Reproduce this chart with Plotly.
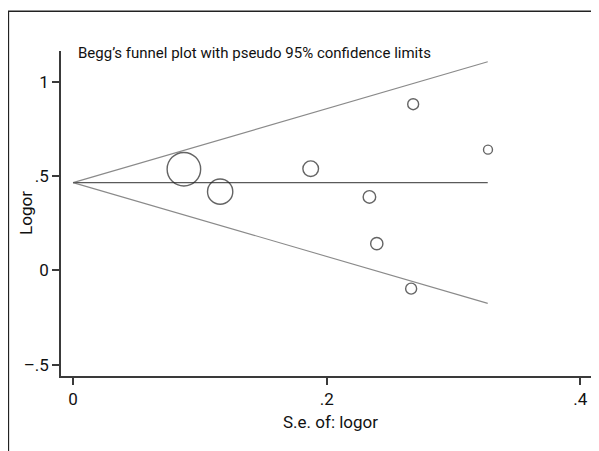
import plotly.graph_objects as go

# ---- data ----
se_logor = [0.0874, 0.116, 0.1874, 0.2337, 0.2395, 0.2682, 0.2666, 0.3272]
logor = [0.537, 0.418, 0.540, 0.390, 0.142, 0.882, -0.097, 0.641]
pooled = 0.466
funnel_se = [0.0, 0.327]
upper_limit = [0.466, 1.107]
lower_limit = [0.466, -0.175]
x_tickvals = [0, 0.2, 0.4]
x_ticktext = ["0", ".2", ".4"]
y_tickvals = [-0.5, 0, 0.5, 1]
y_ticktext = ["\u2013.5", "0", ".5", "1"]
title_text = "Begg\u2019s funnel plot with pseudo 95% confidence limits"
x_title = "S.e. of: logor"
y_title = "Logor"

# ---- layout geometry (screen px targets; page body has an 8px margin) ----
OFF = 8
W, H = 599, 451
ml = 61.3 - OFF
mt = 50.7 - OFF
mr = W - (592.7 - OFF)
mb = H - (375.7 - OFF)
pw, ph = W - ml - mr, H - mt - mb


def px(xs):
    return (xs - OFF - ml) / pw


def py(ys):
    return (H - mb - (ys - OFF)) / ph


FONT = "Roboto, Liberation Sans, sans-serif"
axis_col = "#3a3a3a"
txt_col = "#111111"

# marker diameter proportional to 1/se (Stata weighting)
sizes = [2.93 / s for s in se_logor]

fig = go.Figure()
fig.add_trace(go.Scatter(x=funnel_se, y=upper_limit, mode="lines",
                         line=dict(color="#8a8a8a", width=1.1), hoverinfo="skip"))
fig.add_trace(go.Scatter(x=funnel_se, y=lower_limit, mode="lines",
                         line=dict(color="#8a8a8a", width=1.1), hoverinfo="skip"))
fig.add_trace(go.Scatter(x=funnel_se, y=[pooled, pooled], mode="lines",
                         line=dict(color="#5a5a5a", width=1.1), hoverinfo="skip"))
fig.add_trace(go.Scatter(x=se_logor, y=logor, mode="markers",
                         marker=dict(symbol="circle-open", size=sizes,
                                     color="#222222", line=dict(width=1.4, color="#222222"))))

fig.update_layout(
    width=W, height=H,
    margin=dict(l=ml, r=mr, t=mt, b=mb, pad=0),
    paper_bgcolor="white", plot_bgcolor="white",
    showlegend=False,
    font=dict(family=FONT, size=17, color=txt_col),
    xaxis=dict(range=[-0.0095, 0.410], showgrid=False, zeroline=False,
               showline=True, linecolor=axis_col, linewidth=1.5,
               ticks="outside", ticklen=7, tickwidth=1.5, tickcolor=axis_col,
               tickvals=x_tickvals, ticktext=x_ticktext,
               tickfont=dict(family=FONT, size=17, color=txt_col)),
    yaxis=dict(range=[-0.5605, 1.1645], showgrid=False, zeroline=False,
               showline=True, linecolor=axis_col, linewidth=1.5,
               ticks="outside", ticklen=7, tickwidth=1.5, tickcolor=axis_col,
               tickvals=y_tickvals, ticktext=y_ticktext, tickangle=0,
               tickfont=dict(family=FONT, size=17, color=txt_col)),
    annotations=[
        dict(text=title_text, x=px(76), y=py(52.5), xref="paper", yref="paper",
             xanchor="left", yanchor="middle", showarrow=False,
             font=dict(family=FONT, size=15, color=txt_col)),
        dict(text=x_title, x=px(330), y=py(421.5), xref="paper", yref="paper",
             xanchor="center", yanchor="middle", showarrow=False,
             font=dict(family=FONT, size=17, color=txt_col)),
        dict(text=y_title, x=px(27), y=py(213), xref="paper", yref="paper",
             xanchor="center", yanchor="middle", showarrow=False, textangle=-90,
             font=dict(family=FONT, size=17, color=txt_col)),
    ],
    shapes=[
        dict(type="line", xref="paper", yref="paper", x0=px(8.75), x1=px(8.75),
             y0=py(470), y1=py(11), line=dict(color="#222222", width=1.5)),
        dict(type="line", xref="paper", yref="paper", x0=px(8), x1=px(620),
             y0=py(11), y1=py(11), line=dict(color="#222222", width=1.5)),
    ],
)

fig.write_html("out.html")
